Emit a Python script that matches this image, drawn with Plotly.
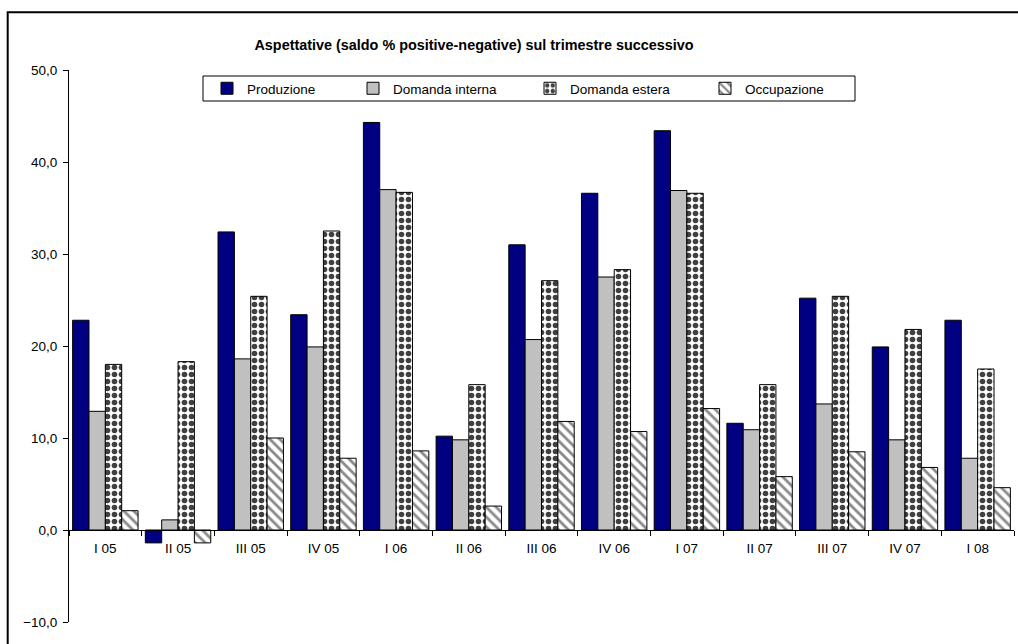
import plotly.graph_objects as go

# Quarterly expectations: balance of positive minus negative answers (%)
trimestri = ["I 05", "II 05", "III 05", "IV 05", "I 06", "II 06", "III 06",
             "IV 06", "I 07", "II 07", "III 07", "IV 07", "I 08"]
produzione = [22.8, -1.4, 32.4, 23.4, 44.3, 10.2, 31.0, 36.6, 43.4, 11.6, 25.2, 19.9, 22.8]
domanda_interna = [12.9, 1.1, 18.6, 19.9, 37.0, 9.8, 20.7, 27.5, 36.9, 10.9, 13.7, 9.8, 7.8]
domanda_estera = [18.0, 18.3, 25.4, 32.5, 36.7, 15.8, 27.1, 28.3, 36.6, 15.8, 25.4, 21.8, 17.5]
occupazione = [2.1, -1.4, 10.0, 7.8, 8.6, 2.6, 11.8, 10.7, 13.2, 5.8, 8.5, 6.8, 4.6]

FONT = "Liberation Sans, Arial, sans-serif"
TXT = 13.5
W, H = 1018, 644
ML, MR, MT, MB = 69, 4, 70, 22
PW, PH = W - ML - MR, H - MT - MB


def px_x(x):
    return (x - ML) / PW


def px_y(y):
    return (H - MB - y) / PH


outline = dict(color="black", width=1)

fig = go.Figure()
fig.add_trace(go.Bar(
    x=trimestri, y=produzione, name="Produzione", legend="legend",
    marker=dict(color="#000080", line=outline)))
fig.add_trace(go.Bar(
    x=trimestri, y=domanda_interna, name="Domanda interna", legend="legend2",
    marker=dict(color="#C0C0C0", line=outline)))
fig.add_trace(go.Bar(
    x=trimestri, y=domanda_estera, name="Domanda estera", legend="legend3",
    marker=dict(color="white", line=outline,
                pattern=dict(shape=".", fgcolor="#404040", bgcolor="white",
                             size=7, solidity=0.5, fillmode="replace"))))
fig.add_trace(go.Bar(
    x=trimestri, y=occupazione, name="Occupazione", legend="legend4",
    marker=dict(color="white", line=outline,
                pattern=dict(shape="\\", fgcolor="#8a8a8a", bgcolor="white",
                             size=7, solidity=0.4, fillmode="replace"))))

legend_common = dict(orientation="h", yanchor="middle", xanchor="left",
                     bgcolor="rgba(0,0,0,0)", borderwidth=0,
                     font=dict(family=FONT, size=TXT, color="black"))
text_starts = [247, 393, 570, 745]
legend_y = px_y(88.5)

fig.update_layout(
    width=W, height=H,
    margin=dict(l=ML, r=MR, t=MT, b=MB, pad=0),
    paper_bgcolor="white", plot_bgcolor="white",
    separators=",.",
    showlegend=True,
    barmode="group", bargap=0.1, bargroupgap=0,
    font=dict(family=FONT, size=TXT, color="black"),
    title=dict(text="Aspettative (saldo % positive-negative) sul trimestre successivo",
               font=dict(family=FONT, size=14.4, color="black", weight="bold"),
               x=px_x(474), xref="paper", xanchor="center",
               y=1 - 45 / H, yref="container", yanchor="middle"),
    xaxis=dict(type="category", range=[-0.5, 12.5],
               anchor="free", position=10 / 60,
               showline=True, linecolor="black", linewidth=1,
               ticks="outside", tickson="boundaries", ticklen=5,
               tickcolor="black", tickwidth=1, showgrid=False,
               ticklabelstandoff=6,
               tickfont=dict(family=FONT, size=TXT, color="black")),
    yaxis=dict(range=[-10, 50], dtick=10, tick0=0, tickformat=".1f",
               showline=True, linecolor="black", linewidth=1,
               ticks="outside", ticklen=5, tickcolor="black", tickwidth=1,
               showgrid=False, zeroline=False, ticklabelstandoff=3,
               tickfont=dict(family=FONT, size=TXT, color="black")),
    legend=dict(x=px_x(text_starts[0] - 40), y=legend_y, **legend_common),
    legend2=dict(x=px_x(text_starts[1] - 40), y=legend_y, **legend_common),
    legend3=dict(x=px_x(text_starts[2] - 40), y=legend_y, **legend_common),
    legend4=dict(x=px_x(text_starts[3] - 40), y=legend_y, **legend_common),
    shapes=[
        # legend frame
        dict(type="rect", xref="paper", yref="paper",
             x0=px_x(203), x1=px_x(855), y0=px_y(101), y1=px_y(76),
             line=dict(color="black", width=1), fillcolor="rgba(0,0,0,0)",
             layer="above"),
        # chart area frame
        dict(type="rect", xref="paper", yref="paper",
             x0=px_x(7.7), x1=px_x(1100), y0=px_y(700), y1=px_y(12.3),
             line=dict(color="black", width=2), fillcolor="rgba(0,0,0,0)",
             layer="above"),
    ],
)

fig.write_html("out.html")
